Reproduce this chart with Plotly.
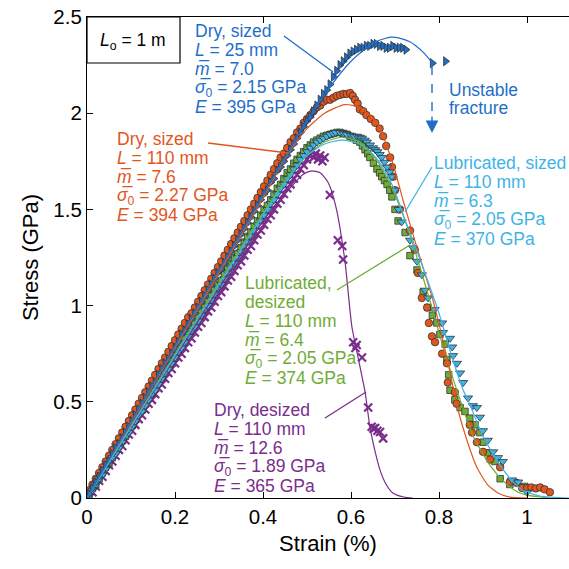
import plotly.graph_objects as go

# ---------------- data (strain %, stress GPa) ----------------
grid = [0.005,0.0125,0.02,0.0275,0.035,0.0425,0.05,0.0575,0.065,0.0725,0.08,0.0875,0.095,0.1025,0.11,0.1175,0.125,
        0.1325,0.14,0.1475,0.155,0.1625,0.17,0.1775,0.185,0.1925,0.2,0.2075,0.215,0.2225,0.23,0.2375,0.245,0.2525,
        0.26,0.2675,0.275,0.2825,0.29,0.2975,0.305,0.3125,0.32,0.3275,0.335,0.3425,0.35,0.3575,0.365,0.3725,0.38,
        0.3875,0.395,0.4025,0.41,0.4175,0.425,0.4325,0.44,0.4475,0.455,0.4625,0.47,0.4775,0.485,0.4925]

# Dry, sized, L = 25 mm
ds25_x = grid + [0.5,0.5075,0.515,0.5225,0.53,0.5375,0.545,0.5525,
                 0.56,0.5675,0.575,0.5825,0.59,0.5975,0.605,0.6125,0.62,0.6275,0.635,0.6425,0.65,0.6575,0.665,
                 0.6725,0.68,0.6875,0.695,0.7025,0.71,0.7175,0.725,0.785,0.815]
ds25_y = [0.02,0.05,0.08,0.11,0.14,0.17,0.19,0.23,0.26,0.28,0.31,0.34,0.37,0.40,0.43,0.46,0.49,0.52,0.55,0.58,
          0.60,0.64,0.67,0.70,0.72,0.75,0.78,0.81,0.85,0.87,0.90,0.93,0.96,0.99,1.02,1.05,1.08,1.11,1.14,1.17,
          1.19,1.22,1.25,1.28,1.31,1.34,1.37,1.40,1.43,1.46,1.49,1.52,1.55,1.58,1.60,1.64,1.66,1.70,1.72,1.75,
          1.78,1.81,1.84,1.87,1.90,1.93,
          1.96,1.98,2.01,2.04,2.07,2.10,2.12,2.15,
          2.19,2.22,2.25,2.27,2.29,2.31,2.32,2.33,2.34,2.34,2.35,2.35,2.36,2.36,2.35,
          2.35,2.34,2.34,2.35,2.34,2.34,2.34,2.33,2.26,2.27]
ds25_fit_x = [0,0.1,0.2,0.3,0.4,0.45,0.5,0.55,0.6,0.63,0.66,0.69,0.71,0.735,0.75,0.765,0.784]
ds25_fit_y = [0,0.395,0.79,1.185,1.575,1.77,1.96,2.13,2.27,2.33,2.375,2.395,2.39,2.37,2.345,2.315,2.265]

# Dry, sized, L = 110 mm
ds110_x = grid[:61] + [0.4625,0.47,0.4775,0.485,0.4925,0.5,0.5075,0.515,0.5225,0.53,0.5375,0.545,0.5525,0.56,
                       0.5675,0.575,0.5825,0.59,0.598,0.604,0.609,0.615,0.62,0.628,0.635,0.645,0.655,0.665,0.673,
                       0.68,0.689,0.693,0.696,0.70,
                       0.711,0.734,0.745,0.752,0.761,0.773,0.777,0.784,0.791,0.807,0.818,0.82,0.836,0.84,0.87,
                       0.875,0.886,0.90,0.916,0.939,0.961,0.977,0.989,1.0,1.01,1.02,1.03,1.04,1.052]
ds110_y = [0.04,0.07,0.10,0.13,0.16,0.19,0.22,0.25,0.28,0.31,0.34,0.37,0.40,0.43,0.46,0.49,0.52,0.55,0.58,0.61,
           0.64,0.67,0.70,0.73,0.76,0.79,0.82,0.85,0.88,0.91,0.94,0.96,0.99,1.02,1.05,1.08,1.11,1.14,1.17,1.20,
           1.23,1.26,1.29,1.32,1.35,1.38,1.41,1.44,1.47,1.50,1.53,1.56,1.59,1.62,1.65,1.68,1.71,1.74,1.77,1.79,
           1.82,
           1.85,1.87,1.90,1.92,1.95,1.97,1.99,2.01,2.03,2.04,2.06,2.07,2.07,2.08,2.09,2.095,2.10,2.10,2.105,
           2.09,2.07,2.05,2.02,2.01,1.99,1.97,1.95,1.92,1.88,1.83,1.77,1.72,1.67,1.60,
           1.50,1.39,1.29,1.17,1.04,0.99,0.91,0.84,0.81,0.75,0.70,0.60,0.55,0.49,0.38,
           0.34,0.29,0.24,0.20,0.16,0.083,0.078,0.052,0.05,0.055,0.05,0.055,0.045,0.03]
ds110_fit_x = [0,0.1,0.2,0.3,0.4,0.457,0.5,0.54,0.586,0.62,0.659,0.695,0.718,0.75,0.786,0.815,0.843,0.865,0.886,0.91,0.935,0.961,1.0]
ds110_fit_y = [0,0.39,0.78,1.17,1.56,1.79,1.92,2.00,2.045,2.03,1.95,1.74,1.55,1.30,1.03,0.76,0.46,0.29,0.16,0.07,0.025,0.005,0.0]

# Lubricated, desized
ld_x = grid + [0.5,0.5075,0.515,0.5225,0.53,0.5375,0.545,0.5525,0.56,0.568,0.575,0.583,0.591,0.598,0.605,0.612,
               0.62,0.626,0.632,0.638,0.643,0.651,0.659,0.665,0.67,0.676,0.682,0.688,0.693,0.70,0.707,0.723,
               0.734,0.75,0.764,0.775,0.785,0.795,0.802,0.814,0.818,0.822,0.825,0.836,0.848,0.859,0.87,0.882,
               0.893,0.90,0.911,0.927,0.939,0.961,0.995,1.0]
ld_y = [0.02,0.05,0.07,0.10,0.13,0.16,0.18,0.21,0.24,0.27,0.30,0.32,0.35,0.38,0.41,0.44,0.46,0.49,0.52,0.55,
        0.58,0.60,0.63,0.66,0.69,0.72,0.74,0.77,0.80,0.83,0.86,0.88,0.91,0.94,0.97,0.99,1.02,1.05,1.08,1.11,
        1.13,1.16,1.19,1.22,1.25,1.27,1.30,1.33,1.36,1.38,1.41,1.44,1.47,1.50,1.52,1.55,1.58,1.61,1.63,1.66,
        1.69,1.71,1.74,1.76,1.78,1.80,
        1.82,1.835,1.85,1.86,1.87,1.88,1.885,1.89,1.895,1.90,1.90,1.895,1.89,1.88,1.87,1.86,
        1.85,1.83,1.81,1.79,1.77,1.74,1.71,1.69,1.67,1.65,1.63,1.60,1.565,1.50,1.44,1.38,
        1.26,1.185,1.07,0.99,0.95,0.91,0.85,0.80,0.72,0.64,0.56,0.51,0.47,0.45,0.415,0.38,
        0.34,0.29,0.235,0.19,0.10,0.07,0.06,0.05]
ld_fit_x = [0,0.1,0.2,0.3,0.4,0.45,0.5,0.54,0.58,0.62,0.66,0.695,0.72,0.75,0.78,0.81,0.848,0.88,0.916,0.95,0.98,1.0,1.05]
ld_fit_y = [0,0.374,0.748,1.12,1.48,1.65,1.78,1.85,1.875,1.85,1.75,1.60,1.46,1.25,1.02,0.78,0.51,0.31,0.17,0.08,0.03,0.015,0.0]

# Lubricated, sized
ls_x = grid + [0.5,0.5075,0.515,0.5225,0.53,0.5375,0.545,0.552,0.559,0.565,0.575,0.583,0.59,0.60,0.607,0.614,
               0.62,0.625,0.631,0.636,0.643,0.65,0.655,0.66,0.665,0.67,0.676,0.682,0.688,0.693,0.70,0.708,
               0.715,0.734,0.741,0.75,0.761,0.768,0.775,0.79,0.807,0.809,0.825,0.83,0.832,0.841,0.848,0.855,
               0.866,0.877,0.886,0.893,0.90,0.911,0.923,0.934,0.945,0.966,0.98,1.0]
ls_y = [0.01,0.04,0.07,0.10,0.12,0.15,0.18,0.21,0.23,0.26,0.29,0.32,0.34,0.37,0.40,0.43,0.45,0.48,0.51,0.54,
        0.56,0.59,0.62,0.65,0.67,0.70,0.73,0.76,0.78,0.81,0.84,0.87,0.89,0.92,0.95,0.98,1.00,1.03,1.06,1.09,
        1.11,1.14,1.17,1.20,1.22,1.25,1.28,1.31,1.33,1.36,1.39,1.42,1.44,1.47,1.50,1.53,1.55,1.58,1.61,1.63,
        1.66,1.68,1.71,1.73,1.76,1.78,
        1.80,1.82,1.835,1.85,1.86,1.87,1.88,1.89,1.895,1.90,1.90,1.895,1.89,1.885,1.88,1.88,
        1.875,1.87,1.86,1.85,1.835,1.82,1.81,1.80,1.785,1.77,1.745,1.72,1.695,1.67,1.60,1.50,
        1.435,1.34,1.30,1.23,1.16,1.08,1.04,0.98,0.91,0.86,0.83,0.785,0.74,0.70,0.65,0.60,
        0.52,0.48,0.47,0.42,0.35,0.30,0.24,0.21,0.19,0.094,0.083,0.03]
ls_fit_x = [0,0.1,0.2,0.3,0.4,0.45,0.5,0.54,0.58,0.62,0.66,0.695,0.723,0.76,0.8,0.83,0.855,0.866,0.9,0.939,0.97,0.99,1.03,1.095]
ls_fit_y = [0,0.37,0.74,1.11,1.47,1.64,1.78,1.84,1.86,1.84,1.76,1.62,1.445,1.22,0.96,0.73,0.56,0.51,0.32,0.17,0.08,0.04,0.01,0.0]

# Dry, desized
dd_x = grid + [0.5,0.505,0.51,0.515,0.52,0.525,0.53,0.535,0.54,0.552,0.57,0.58,0.582,0.605,0.61,0.613,0.625,
               0.639,0.647,0.651,0.655,0.66,0.666,0.673]
dd_y = [0.00,0.03,0.06,0.09,0.11,0.14,0.17,0.19,0.22,0.25,0.27,0.30,0.33,0.35,0.38,0.41,0.43,0.46,0.49,0.51,
        0.54,0.57,0.59,0.62,0.65,0.67,0.70,0.73,0.75,0.78,0.81,0.83,0.86,0.89,0.91,0.94,0.97,0.99,1.02,1.05,
        1.07,1.10,1.13,1.15,1.18,1.21,1.23,1.26,1.29,1.31,1.34,1.37,1.39,1.42,1.45,1.47,1.50,1.53,1.55,1.58,
        1.61,1.63,1.66,1.68,1.71,1.73,
        1.76,1.78,1.80,1.77,1.79,1.76,1.78,1.75,1.77,1.575,1.34,1.31,1.24,0.81,0.78,0.795,0.73,
        0.47,0.37,0.36,0.364,0.35,0.343,0.31]
dd_fit_x = [0,0.1,0.2,0.3,0.4,0.45,0.49,0.51,0.53,0.548,0.565,0.586,0.602,0.617,0.632,0.643,0.655,0.666,0.68,0.695,0.72,0.74]
dd_fit_y = [0,0.365,0.73,1.09,1.44,1.58,1.68,1.70,1.69,1.64,1.52,1.235,0.89,0.72,0.55,0.37,0.24,0.145,0.07,0.026,0.005,0.0]

x_ticks = [0, 0.2, 0.4, 0.6, 0.8, 1]
x_tick_labels = ["0", "0.2", "0.4", "0.6", "0.8", "1"]
y_ticks = [0, 0.5, 1, 1.5, 2, 2.5]
y_tick_labels = ["0", "0.5", "1", "1.5", "2", "2.5"]

# ---------------- styling ----------------
C_BLUE = "#1f6fc8"
C_ORANGE = "#e2561e"
C_LBLUE = "#3db4e6"
C_GREEN = "#6fac35"
C_PURPLE = "#7a2d8c"
FONT = "Liberation Sans, Arial, sans-serif"
EDGE = dict(color="#333333", width=0.8)

W = H = 569
ML, MR, MT, MB = 87, 0, 17, 71
XMAX = (W - ML - MR) / 440.0


def P(px, py):
    """pixel -> data coordinates"""
    return (px - ML) / 440.0, (H - MB - py) / 192.4


fig = go.Figure()

fig.add_trace(go.Scatter(x=dd_x, y=dd_y, mode="markers",
                         marker=dict(symbol="x-thin", size=8, line=dict(color=C_PURPLE, width=2.2), color=C_PURPLE)))
fig.add_trace(go.Scatter(x=ld_x, y=ld_y, mode="markers",
                         marker=dict(symbol="square", size=6.5, color=C_GREEN, line=EDGE)))
fig.add_trace(go.Scatter(x=ds110_x, y=ds110_y, mode="markers",
                         marker=dict(symbol="circle", size=7.5, color=C_ORANGE, line=EDGE)))
fig.add_trace(go.Scatter(x=ls_x, y=ls_y, mode="markers",
                         marker=dict(symbol="triangle-down", size=8, color=C_LBLUE, line=EDGE)))
fig.add_trace(go.Scatter(x=ds25_x, y=ds25_y, mode="markers",
                         marker=dict(symbol="triangle-right", size=8, color=C_BLUE, line=EDGE)))

for fx, fy, c in [(dd_fit_x, dd_fit_y, C_PURPLE), (ld_fit_x, ld_fit_y, C_GREEN),
                  (ds110_fit_x, ds110_fit_y, C_ORANGE), (ls_fit_x, ls_fit_y, C_LBLUE),
                  (ds25_fit_x, ds25_fit_y, C_BLUE)]:
    fig.add_trace(go.Scatter(x=fx, y=fy, mode="lines", line=dict(color=c, width=1.2, shape="spline", smoothing=0.6)))

annotations = []
shapes = []


def text_block(px, py0, lines, color, spacing=19, size=17.5):
    for i, t in enumerate(lines):
        x, y = P(px, py0 + i * spacing)
        annotations.append(dict(x=x, y=y, xref="x", yref="y", text=t, showarrow=False,
                                xanchor="left", yanchor="middle",
                                font=dict(family=FONT, size=size, color=color)))


def leader(p0, p1, color):
    x0, y0 = P(*p0)
    x1, y1 = P(*p1)
    shapes.append(dict(type="line", x0=x0, y0=y0, x1=x1, y1=y1, xref="x", yref="y",
                       line=dict(color=color, width=1.3)))


M = "<i>m\u0305</i>"
S = "<i>\u03c3\u0305</i><sub>0</sub>"

text_block(193, 31, ["Dry, sized", "<i>L</i> = 25 mm", M + " = 7.0", S + " = 2.15 GPa", "<i>E</i> = 395 GPa"], C_BLUE)
text_block(115, 139, ["Dry, sized", "<i>L</i> = 110 mm", M + " = 7.6", S + " = 2.27 GPa", "<i>E</i> = 394 GPa"], C_ORANGE)
text_block(432, 163, ["Lubricated, sized", "<i>L</i> = 110 mm", M + " = 6.3", S + " = 2.05 GPa", "<i>E</i> = 370 GPa"], C_LBLUE)
text_block(243, 283, ["Lubricated,", "desized", "<i>L</i> = 110 mm", M + " = 6.4", S + " = 2.05 GPa", "<i>E</i> = 374 GPa"], C_GREEN)
text_block(212, 410, ["Dry, desized", "<i>L</i> = 110 mm", M + " = 12.6", S + " = 1.89 GPa", "<i>E</i> = 365 GPa"], C_PURPLE)
text_block(447, 90, ["Unstable", "fracture"], C_BLUE, spacing=18)

leader((284, 36), (333, 72), C_BLUE)
leader((208, 143), (288, 153), C_ORANGE)
leader((432, 167), (405, 212), C_LBLUE)
leader((337, 290), (410, 245), C_GREEN)
leader((325, 418), (366, 392), C_PURPLE)

# unstable fracture dashed arrow
ax0, ay0 = P(432, 66)
ax1, ay1 = P(432, 118)
shapes.append(dict(type="line", x0=ax0, y0=ay0, x1=ax1, y1=ay1, xref="x", yref="y",
                   line=dict(color=C_BLUE, width=1.4, dash="dash")))
hx, hy = P(432, 133)
tx, ty = P(432, 115)
annotations.append(dict(x=hx, y=hy, ax=tx, ay=ty, xref="x", yref="y", axref="x", ayref="y",
                        showarrow=True, arrowhead=2, arrowsize=1.8, arrowwidth=1.4, arrowcolor=C_BLUE, text=""))

# L0 box
bx0, by0 = P(87, 63)
bx1, by1 = P(180, 17)
shapes.append(dict(type="rect", x0=bx0, y0=by0, x1=bx1, y1=by1, xref="x", yref="y",
                   line=dict(color="black", width=1.2), fillcolor="white", layer="above"))
lx, ly = P(133, 41)
annotations.append(dict(x=lx, y=ly, xref="x", yref="y", showarrow=False, xanchor="center", yanchor="middle",
                        text="<i>L</i><sub>o</sub> = 1 m", font=dict(family=FONT, size=17.5, color="black")))

fig.update_layout(
    width=W, height=H, margin=dict(l=ML, r=MR, t=MT, b=MB),
    paper_bgcolor="white", plot_bgcolor="white", showlegend=False,
    annotations=annotations, shapes=shapes,
    font=dict(family=FONT, color="black"),
)
fig.update_xaxes(range=[0, XMAX], tickvals=x_ticks, ticktext=x_tick_labels, ticks="inside", ticklen=6,
                 tickcolor="black", showline=True, linecolor="black", linewidth=1.2, mirror="ticks",
                 showgrid=False, zeroline=False, tickfont=dict(size=20.5),
                 title=dict(text="Strain (%)", font=dict(size=22), standoff=8))
fig.update_yaxes(range=[0, 2.5], tickvals=y_ticks, ticktext=y_tick_labels, ticks="inside", ticklen=6,
                 tickcolor="black", showline=True, linecolor="black", linewidth=1.2, mirror=False,
                 showgrid=False, zeroline=False, tickfont=dict(size=20.5),
                 title=dict(text="Stress (GPa)", font=dict(size=22), standoff=8))

fig.write_html("out.html")
